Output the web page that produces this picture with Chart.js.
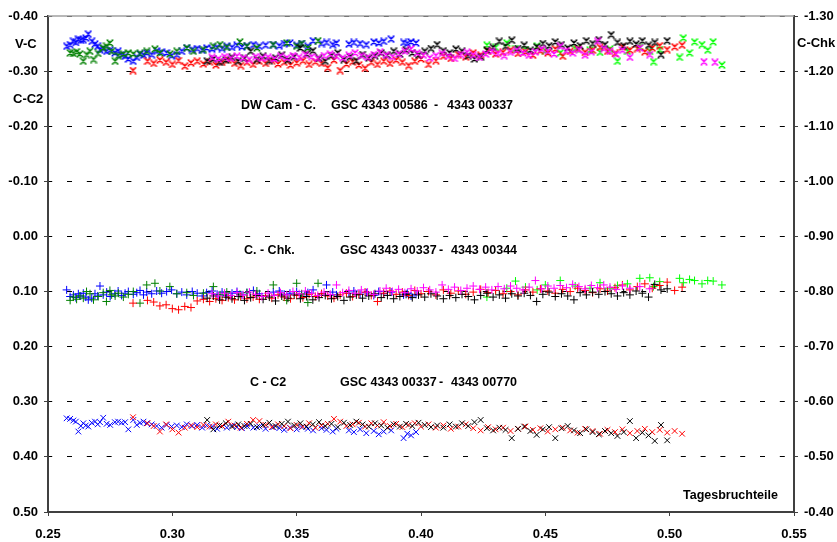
<!DOCTYPE html>
<html><head><meta charset="utf-8">
<style>html,body{margin:0;padding:0;background:#fff;}#wrap{width:837px;height:542px;}</style>
<script src="https://cdn.jsdelivr.net/npm/chart.js@4/dist/chart.umd.min.js"></script>
</head><body><div id="wrap"><canvas id="c" width="837" height="542"></canvas></div>
<script>
// ---- tick labels ----
const xTicks = [0.25,0.30,0.35,0.40,0.45,0.50,0.55];
const yTicks = [-0.40,-0.30,-0.20,-0.10,0.00,0.10,0.20,0.30,0.40,0.50];
const y2Ticks = [-1.30,-1.20,-1.10,-1.00,-0.90,-0.80,-0.70,-0.60,-0.50,-0.40];

// ---- blue night ----
const blueX = [0.2575,0.2589,0.2602,0.2612,0.2622,0.2632,0.2642,0.2652,0.2662,0.2676,
0.2689,0.2700,0.2709,0.2722,0.2736,0.2750,0.2769,0.2782,0.2796,0.2810,
0.2823,0.2843,0.2857,0.2870,0.2884,0.2897,0.2917,0.2937,0.2957,0.2977,
0.2997,0.3018,0.3038,0.3058,0.3080,0.3100,0.3120,0.3138,0.3160,0.3180,
0.3200,0.3219,0.3240,0.3260,0.3280,0.3300,0.3326,0.3350,0.3375,0.3406,
0.3430,0.3450,0.3473,0.3500,0.3520,0.3545,0.3566,0.3600,0.3620,0.3645,
0.3660,0.3710,0.3730,0.3755,0.3780,0.3810,0.3830,0.3850,0.3880,0.3930,
0.3945,0.3960,0.3980];
const blueVC = [-0.345,-0.348,-0.354,-0.352,-0.358,-0.356,-0.357,-0.360,-0.367,-0.354,
-0.349,-0.345,-0.339,-0.341,-0.336,-0.338,-0.333,-0.336,-0.330,-0.327,
-0.322,-0.318,-0.325,-0.331,-0.329,-0.333,-0.330,-0.336,-0.334,-0.333,
-0.328,-0.330,-0.336,-0.342,-0.339,-0.341,-0.338,-0.342,-0.340,-0.343,
-0.341,-0.345,-0.343,-0.347,-0.344,-0.346,-0.348,-0.345,-0.347,-0.348,
-0.346,-0.350,-0.351,-0.347,-0.350,-0.345,-0.355,-0.350,-0.352,-0.348,
-0.351,-0.349,-0.352,-0.350,-0.348,-0.353,-0.351,-0.354,-0.358,-0.352,
-0.350,-0.353,-0.351];
const blueCChk = [-0.803,-0.791,-0.794,-0.789,-0.796,-0.792,-0.797,-0.790,-0.785,-0.788,
-0.796,-0.792,-0.810,-0.794,-0.799,-0.791,-0.796,-0.801,-0.793,-0.797,
-0.800,-0.795,-0.798,-0.802,-0.794,-0.799,-0.796,-0.801,-0.797,-0.800,
-0.803,-0.796,-0.799,-0.794,-0.800,-0.797,-0.792,-0.798,-0.801,-0.795,
-0.799,-0.793,-0.797,-0.800,-0.794,-0.798,-0.802,-0.796,-0.792,-0.799,
-0.801,-0.795,-0.797,-0.800,-0.794,-0.798,-0.803,-0.796,-0.812,-0.799,
-0.794,-0.797,-0.801,-0.795,-0.798,-0.793,-0.800,-0.796,-0.799,-0.794,
-0.797,-0.792,-0.795];
const blueCC2 = [0.330,0.331,0.334,0.336,0.354,0.344,0.339,0.343,0.345,0.338,
0.336,0.341,0.337,0.329,0.340,0.342,0.337,0.336,0.338,0.337,
0.350,0.333,0.342,0.338,0.336,0.339,0.341,0.344,0.347,0.342,
0.345,0.343,0.346,0.341,0.344,0.342,0.347,0.343,0.345,0.349,
0.344,0.347,0.343,0.346,0.348,0.344,0.347,0.345,0.349,0.346,
0.348,0.351,0.347,0.350,0.346,0.349,0.352,0.348,0.351,0.354,
0.349,0.352,0.355,0.350,0.357,0.353,0.359,0.354,0.352,0.366,
0.358,0.361,0.355];

// ---- dark green night ----
const greenX = [0.2589,0.2602,0.2615,0.2628,0.2642,0.2655,0.2669,0.2683,0.2702,0.2722,
0.2735,0.2749,0.2756,0.2770,0.2783,0.2803,0.2823,0.2843,0.2870,0.2897,
0.2930,0.2950,0.2990,0.3018,0.3058,0.3085,0.3125,0.3165,0.3192,0.3219,
0.3272,0.3300,0.3340,0.3406,0.3460,0.3500,0.3520,0.3545,0.3586];
const greenVC = [-0.333,-0.332,-0.335,-0.331,-0.318,-0.330,-0.336,-0.321,-0.332,-0.342,
-0.345,-0.351,-0.336,-0.318,-0.328,-0.331,-0.333,-0.331,-0.332,-0.336,
-0.340,-0.333,-0.331,-0.336,-0.342,-0.336,-0.339,-0.345,-0.348,-0.343,
-0.353,-0.345,-0.342,-0.348,-0.351,-0.345,-0.350,-0.342,-0.355];
const greenCChk = [-0.784,-0.790,-0.786,-0.792,-0.788,-0.800,-0.796,-0.785,-0.791,-0.798,
-0.782,-0.802,-0.794,-0.792,-0.797,-0.790,-0.795,-0.800,-0.779,-0.812,
-0.815,-0.801,-0.809,-0.796,-0.798,-0.793,-0.797,-0.809,-0.794,-0.799,
-0.795,-0.798,-0.801,-0.812,-0.784,-0.815,-0.796,-0.780,-0.815];

// ---- red night ----
const redX = [0.2842,0.2900,0.2925,0.2950,0.2975,0.3000,0.3025,0.3050,0.3075,0.3100,
0.3125,0.3150,0.3175,0.3200,0.3225,0.3250,0.3275,0.3300,0.3325,0.3350,
0.3375,0.3400,0.3425,0.3450,0.3475,0.3500,0.3525,0.3550,0.3575,0.3600,
0.3625,0.3650,0.3675,0.3700,0.3725,0.3750,0.3775,0.3800,0.3825,0.3850,
0.3875,0.3900,0.3925,0.3950,0.3975,0.4000,0.4030,0.4060,0.4090,0.4120,
0.4150,0.4180,0.4210,0.4240,0.4270,0.4300,0.4330,0.4360,0.4390,0.4420,
0.4450,0.4480,0.4510,0.4540,0.4570,0.4600,0.4630,0.4660,0.4690,0.4720,
0.4750,0.4780,0.4810,0.4840,0.4870,0.4900,0.4930,0.4960,0.4990,0.5020,0.5050];
const redVC = [-0.301,-0.318,-0.314,-0.320,-0.316,-0.312,-0.319,-0.309,-0.315,-0.318,
-0.313,-0.317,-0.311,-0.316,-0.320,-0.314,-0.310,-0.316,-0.312,-0.318,
-0.314,-0.319,-0.313,-0.316,-0.311,-0.315,-0.319,-0.312,-0.317,-0.314,
-0.306,-0.320,-0.301,-0.313,-0.317,-0.311,-0.305,-0.316,-0.312,-0.318,
-0.314,-0.320,-0.316,-0.310,-0.318,-0.322,-0.312,-0.319,-0.327,-0.323,
-0.330,-0.326,-0.333,-0.329,-0.336,-0.331,-0.334,-0.338,-0.332,-0.335,
-0.329,-0.337,-0.333,-0.340,-0.327,-0.336,-0.341,-0.334,-0.338,-0.343,
-0.336,-0.332,-0.344,-0.338,-0.341,-0.335,-0.342,-0.346,-0.339,-0.344,-0.347];
const redCChk = [-0.779,-0.784,-0.781,-0.774,-0.776,-0.769,-0.767,-0.773,-0.771,-0.783,
-0.786,-0.782,-0.787,-0.784,-0.789,-0.785,-0.791,-0.787,-0.790,-0.786,
-0.792,-0.788,-0.794,-0.790,-0.787,-0.793,-0.789,-0.795,-0.791,-0.796,
-0.792,-0.788,-0.794,-0.797,-0.791,-0.795,-0.799,-0.793,-0.782,-0.797,
-0.801,-0.795,-0.799,-0.793,-0.802,-0.796,-0.800,-0.794,-0.803,-0.797,
-0.801,-0.795,-0.799,-0.804,-0.798,-0.802,-0.796,-0.800,-0.794,-0.803,
-0.799,-0.805,-0.801,-0.797,-0.804,-0.800,-0.806,-0.802,-0.798,-0.805,
-0.801,-0.807,-0.812,-0.803,-0.809,-0.814,-0.806,-0.811,-0.817,-0.802,-0.808];
const redCC2 = [0.328,0.339,0.344,0.354,0.341,0.350,0.356,0.347,0.343,0.346,
0.342,0.345,0.341,0.344,0.336,0.343,0.347,0.340,0.333,0.335,
0.342,0.346,0.341,0.344,0.348,0.342,0.345,0.339,0.347,0.343,
0.340,0.331,0.336,0.344,0.341,0.338,0.345,0.339,0.343,0.337,
0.344,0.340,0.346,0.342,0.339,0.345,0.341,0.347,0.343,0.349,
0.345,0.341,0.348,0.352,0.346,0.350,0.347,0.353,0.349,0.345,
0.351,0.348,0.354,0.350,0.347,0.352,0.356,0.349,0.353,0.358,
0.351,0.355,0.350,0.357,0.353,0.349,0.355,0.351,0.356,0.353,0.358];

// ---- black night ----
const blackX = [0.3140,0.3165,0.3190,0.3215,0.3240,0.3265,0.3290,0.3315,0.3340,0.3365,
0.3390,0.3415,0.3440,0.3465,0.3490,0.3515,0.3540,0.3565,0.3590,0.3615,
0.3640,0.3665,0.3690,0.3715,0.3740,0.3765,0.3790,0.3815,0.3840,0.3865,
0.3890,0.3915,0.3940,0.3965,0.3990,0.4015,0.4040,0.4065,0.4090,0.4115,
0.4140,0.4165,0.4190,0.4215,0.4240,0.4265,0.4290,0.4315,0.4340,0.4365,
0.4390,0.4415,0.4440,0.4465,0.4490,0.4515,0.4540,0.4565,0.4590,0.4615,
0.4640,0.4665,0.4690,0.4715,0.4740,0.4765,0.4790,0.4815,0.4840,0.4865,
0.4890,0.4915,0.4940,0.4965,0.4990];
const blackVC = [-0.318,-0.322,-0.316,-0.320,-0.325,-0.318,-0.323,-0.336,-0.321,-0.327,
-0.319,-0.324,-0.329,-0.320,-0.326,-0.342,-0.331,-0.337,-0.323,-0.318,
-0.328,-0.333,-0.321,-0.326,-0.319,-0.330,-0.324,-0.328,-0.333,-0.329,
-0.336,-0.331,-0.338,-0.333,-0.329,-0.336,-0.341,-0.348,-0.337,-0.333,
-0.340,-0.336,-0.328,-0.322,-0.326,-0.338,-0.343,-0.354,-0.345,-0.356,
-0.341,-0.347,-0.338,-0.344,-0.350,-0.346,-0.353,-0.348,-0.342,-0.351,
-0.346,-0.355,-0.350,-0.357,-0.348,-0.366,-0.352,-0.346,-0.354,-0.349,
-0.355,-0.347,-0.352,-0.330,-0.355];
const blackCChk = [-0.788,-0.792,-0.785,-0.790,-0.787,-0.791,-0.784,-0.789,-0.793,-0.786,
-0.790,-0.783,-0.792,-0.788,-0.794,-0.787,-0.791,-0.785,-0.789,-0.793,
-0.787,-0.791,-0.784,-0.790,-0.794,-0.788,-0.792,-0.796,-0.789,-0.793,
-0.787,-0.791,-0.795,-0.789,-0.794,-0.790,-0.796,-0.792,-0.787,-0.793,
-0.789,-0.795,-0.791,-0.785,-0.793,-0.797,-0.790,-0.794,-0.788,-0.796,
-0.792,-0.797,-0.793,-0.782,-0.795,-0.799,-0.791,-0.796,-0.792,-0.785,
-0.798,-0.794,-0.799,-0.795,-0.800,-0.796,-0.792,-0.798,-0.794,-0.801,
-0.797,-0.790,-0.813,-0.803,-0.805];
const blackCC2 = [0.333,0.350,0.343,0.339,0.345,0.341,0.344,0.340,0.346,0.342,
0.338,0.344,0.340,0.336,0.343,0.339,0.345,0.341,0.337,0.344,
0.340,0.346,0.338,0.342,0.336,0.341,0.345,0.339,0.343,0.347,
0.341,0.345,0.340,0.344,0.338,0.342,0.346,0.343,0.347,0.341,
0.345,0.339,0.344,0.337,0.333,0.348,0.352,0.347,0.351,0.366,
0.349,0.345,0.353,0.360,0.350,0.346,0.366,0.348,0.344,0.352,
0.357,0.350,0.355,0.359,0.353,0.357,0.362,0.355,0.335,0.366,
0.356,0.361,0.371,0.342,0.370];

// ---- magenta night ----
const magX = [0.3160,0.3185,0.3210,0.3235,0.3260,0.3285,0.3310,0.3335,0.3360,0.3385,
0.3410,0.3435,0.3460,0.3485,0.3510,0.3535,0.3560,0.3585,0.3610,0.3635,
0.3660,0.3685,0.3710,0.3735,0.3760,0.3785,0.3810,0.3835,0.3860,0.3885,
0.3910,0.3935,0.3960,0.3985,0.4010,0.4035,0.4060,0.4085,0.4110,0.4135,
0.4160,0.4185,0.4210,0.4235,0.4260,0.4285,0.4310,0.4335,0.4360,0.4385,
0.4410,0.4435,0.4460,0.4485,0.4510,0.4535,0.4560,0.4585,0.4610,0.4635,
0.4660,0.4685,0.4710,0.4735,0.4760,0.4785,0.4810,0.4840,0.4880,0.4920,
0.5138,0.5182];
const magVC = [-0.325,-0.322,-0.326,-0.323,-0.327,-0.324,-0.321,-0.326,-0.323,-0.325,
-0.322,-0.327,-0.324,-0.328,-0.325,-0.330,-0.326,-0.323,-0.328,-0.331,
-0.327,-0.324,-0.329,-0.333,-0.328,-0.325,-0.330,-0.334,-0.329,-0.326,
-0.331,-0.336,-0.340,-0.333,-0.329,-0.324,-0.328,-0.332,-0.327,-0.323,
-0.330,-0.334,-0.329,-0.325,-0.331,-0.336,-0.332,-0.328,-0.334,-0.338,
-0.333,-0.329,-0.335,-0.340,-0.336,-0.331,-0.345,-0.337,-0.333,-0.339,
-0.329,-0.335,-0.354,-0.341,-0.336,-0.331,-0.338,-0.325,-0.342,-0.330,
-0.317,-0.316];
const magCChk = [-0.796,-0.792,-0.797,-0.793,-0.798,-0.794,-0.799,-0.795,-0.791,-0.797,
-0.793,-0.798,-0.794,-0.800,-0.796,-0.801,-0.797,-0.793,-0.799,-0.795,
-0.812,-0.798,-0.802,-0.797,-0.803,-0.799,-0.795,-0.801,-0.806,-0.800,
-0.804,-0.798,-0.805,-0.801,-0.807,-0.803,-0.799,-0.812,-0.804,-0.808,
-0.802,-0.806,-0.810,-0.804,-0.808,-0.803,-0.809,-0.805,-0.810,-0.806,
-0.803,-0.808,-0.820,-0.805,-0.810,-0.806,-0.811,-0.807,-0.813,-0.809,
-0.805,-0.811,-0.807,-0.812,-0.808,-0.804,-0.810,-0.806,-0.809,-0.805,
null,null];

// ---- light green night ----
const limeX = [0.4265,0.4300,0.4345,0.4380,0.4420,0.4467,0.4500,0.4560,0.4620,0.4680,
0.4720,0.4760,0.4790,0.4830,0.4880,0.4920,0.4935,0.4960,0.5040,0.5055,
0.5080,0.5100,0.5130,0.5153,0.5175,0.5210];
const limeVC = [-0.347,-0.343,-0.351,-0.341,-0.339,-0.345,-0.337,-0.333,-0.341,-0.338,
-0.334,-0.340,-0.318,-0.336,-0.343,-0.336,-0.317,-0.339,-0.325,-0.360,
-0.333,-0.353,-0.348,-0.338,-0.353,-0.311];
const limeCChk = [-0.790,-0.802,-0.806,-0.819,-0.808,-0.803,-0.812,-0.820,-0.810,-0.806,
-0.816,-0.805,-0.811,-0.814,-0.824,-0.825,-0.809,-0.818,-0.824,-0.816,
-0.822,-0.820,-0.814,-0.820,-0.819,-0.812];

// ---- helpers ----
function pts(xs, ys){ const o=[]; for(let i=0;i<xs.length;i++){ if(ys[i]!==null && ys[i]!==undefined) o.push({x:xs[i],y:ys[i]}); } return o; }
function starImg(color){
  const c=document.createElement('canvas'); c.width=8; c.height=8;
  const g=c.getContext('2d'); g.strokeStyle=color; g.lineWidth=1.1;
  g.beginPath();
  g.moveTo(1,1); g.lineTo(7,7); g.moveTo(7,1); g.lineTo(1,7);
  g.moveTo(4,1.5); g.lineTo(4,6.5);
  g.moveTo(0.5,1); g.lineTo(2.5,1); g.moveTo(5.5,1); g.lineTo(7.5,1);
  g.moveTo(0.5,7); g.lineTo(2.5,7); g.moveTo(5.5,7); g.lineTo(7.5,7);
  g.stroke(); return c;
}
const COL = {blue:'#0000ff', green:'#008000', red:'#ff0000', black:'#000000', mag:'#ff00ff', lime:'#00ff00'};
function dsVC(xs, ys, col){ return {data:pts(xs,ys), yAxisID:'y', pointStyle:starImg(col), pointRadius:4, borderColor:col, backgroundColor:col, showLine:false}; }
function dsCk(xs, ys, col){ return {data:pts(xs,ys), yAxisID:'y2', pointStyle:'cross', pointRadius:4, borderWidth:1, borderColor:col, backgroundColor:col, showLine:false}; }
function dsC2(xs, ys, col){ return {data:pts(xs,ys), yAxisID:'y', pointStyle:'crossRot', pointRadius:4, borderWidth:1, borderColor:col, backgroundColor:col, showLine:false}; }

const datasets = [
  dsVC(magX, magVC, COL.mag), dsVC(blackX, blackVC, COL.black), dsVC(redX, redVC, COL.red),
  dsVC(limeX, limeVC, COL.lime), dsVC(greenX, greenVC, COL.green), dsVC(blueX, blueVC, COL.blue),
  dsCk(magX, magCChk, COL.mag), dsCk(blackX, blackCChk, COL.black), dsCk(redX, redCChk, COL.red),
  dsCk(limeX, limeCChk, COL.lime), dsCk(greenX, greenCChk, COL.green), dsCk(blueX, blueCChk, COL.blue),
  dsC2(blackX, blackCC2, COL.black), dsC2(redX, redCC2, COL.red), dsC2(blueX, blueCC2, COL.blue)
];

const FAM = '"Liberation Sans", Arial, sans-serif';
const tickFont = {family:FAM, size:13, weight:'bold'};

const textPlugin = {
  id:'texts',
  beforeDatasetsDraw(chart){
    const {ctx, chartArea:a} = chart;
    ctx.save(); ctx.strokeStyle='#a0a0a0'; ctx.lineWidth=1.5;
    ctx.beginPath(); ctx.moveTo(a.left, a.top); ctx.lineTo(a.right, a.top); ctx.stroke();
    ctx.restore();
  },
  afterDraw(chart){
    const ctx = chart.ctx;
    ctx.save();
    ctx.fillStyle='#000'; ctx.textBaseline='alphabetic'; ctx.textAlign='left';
    ctx.font = 'bold 13px ' + FAM;
    ctx.fillText('V-C', 15, 48);
    ctx.fillText('C-C2', 13, 103);
    ctx.fillText('C-Chk', 797, 47);
    ctx.font = 'bold 12.5px ' + FAM;
    ctx.fillText('DW Cam - C.', 241, 109);
    ctx.fillText('GSC 4343 00586', 331, 109);
    ctx.fillText('-', 434, 109);
    ctx.fillText('4343 00337', 447, 109);
    ctx.fillText('C. - Chk.', 244, 254);
    ctx.fillText('GSC 4343 00337', 340, 254);
    ctx.fillText('-', 439, 254);
    ctx.fillText('4343 00344', 451, 254);
    ctx.fillText('C - C2', 250, 386);
    ctx.fillText('GSC 4343 00337', 340, 386);
    ctx.fillText('-', 439, 386);
    ctx.fillText('4343 00770', 451, 386);
    ctx.fillText('Tagesbruchteile', 683, 499);
    ctx.restore();
  }
};

new Chart(document.getElementById('c'), {
  type:'scatter',
  data:{datasets},
  options:{
    responsive:false, animation:false, devicePixelRatio:1,
    layout:{padding:{top:16,left:0,right:0,bottom:0}},
    plugins:{legend:{display:false}, tooltip:{enabled:false}},
    scales:{
      x:{type:'linear', position:'bottom', min:0.25, max:0.55,
        afterBuildTicks:s=>{s.ticks = xTicks.map(v=>({value:v}));},
        afterFit:s=>{s.height=30;},
        ticks:{font:tickFont, color:'#000', padding:11, callback:v=>Number(v).toFixed(2), maxRotation:0, autoSkip:false},
        grid:{drawOnChartArea:false, drawTicks:true, tickLength:4, tickColor:'#404040', tickWidth:1},
        border:{display:true, color:'#404040', width:2}
      },
      y:{type:'linear', position:'left', reverse:true, min:-0.4, max:0.5,
        afterBuildTicks:s=>{s.ticks = yTicks.map(v=>({value:v}));},
        afterFit:s=>{s.width=48;},
        ticks:{font:tickFont, color:'#000', padding:6, callback:v=>Number(v).toFixed(2), autoSkip:false},
        grid:{drawOnChartArea:true, color:'#000', lineWidth:1, drawTicks:true, tickLength:4, tickColor:'#404040', tickWidth:1},
        border:{display:true, color:'#404040', width:2, dash:[5,14.8], dashOffset:1.8}
      },
      y2:{type:'linear', position:'right', reverse:true, min:-1.3, max:-0.4,
        afterBuildTicks:s=>{s.ticks = y2Ticks.map(v=>({value:v}));},
        afterFit:s=>{s.width=43;},
        ticks:{font:tickFont, color:'#000', padding:6, callback:v=>Number(v).toFixed(2), autoSkip:false},
        grid:{drawOnChartArea:false, drawTicks:true, tickLength:4, tickColor:'#404040', tickWidth:1},
        border:{display:true, color:'#404040', width:2}
      }
    }
  },
  plugins:[textPlugin]
});
</script>
</body></html>
